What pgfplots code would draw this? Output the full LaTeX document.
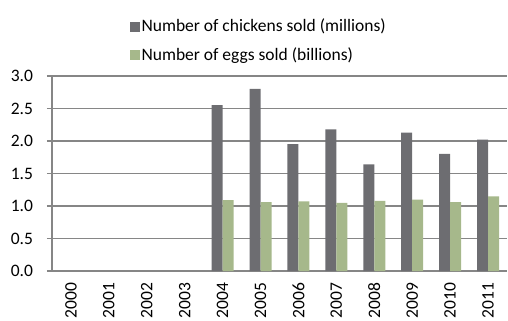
\documentclass[border=0pt]{standalone}
\usepackage{pgfplots}
\pgfplotsset{compat=1.18}
\usepackage{fontspec}
\setmainfont{Carlito}
\definecolor{chick}{RGB}{109,109,113}
\definecolor{egg}{RGB}{166,184,139}
\definecolor{gridc}{RGB}{134,134,134}
\begin{document}
\fontsize{17.5bp}{21bp}\selectfont
\begin{tikzpicture}
\path[use as bounding box] (-52bp,-50bp) rectangle (456bp,271bp);
\begin{axis}[
  at={(0,0)}, anchor=south west,
  scale only axis, width=455bp, height=195bp,
  xmin=-0.5, xmax=11.5, ymin=0, ymax=3,
  ybar=0pt, bar width=11bp,
  axis x line*=bottom, axis y line*=left,
  axis line style={gridc, line width=1.1pt, -},
  xtick={0,...,11},
  xticklabels={2000,2001,2002,2003,2004,2005,2006,2007,2008,2009,2010,2011},
  x tick label style={rotate=90, anchor=east, xshift=-1bp},
  major x tick style={draw=none},
  extra x ticks={-0.5,0.5,...,11.5},
  extra x tick labels={},
  extra x tick style={grid=none, major tick length=5bp, tick style={gridc, line width=1.1pt}},
  ytick={0,0.5,...,3},
  yticklabel style={xshift=-8bp, /pgf/number format/fixed, /pgf/number format/fixed zerofill, /pgf/number format/precision=1},
  /pgf/number format/assume math mode=true,
  ymajorgrids, grid style={gridc, line width=1.1pt},
  major tick length=5bp, tick align=outside,
  ytick style={gridc, line width=1.1pt},
  tick label style={font=\fontsize{17.5bp}{21bp}\selectfont, black},
  legend style={draw=none, fill=none, at={(0.17,1)}, anchor=south west, yshift=11bp,
    row sep=9bp, inner sep=0pt,
    font=\fontsize{17.5bp}{21bp}\selectfont, cells={anchor=west}},
  legend image code/.code={\fill[#1] (0bp,-5bp) rectangle (10bp,5bp);},
  legend cell align=left,
]
\addplot[fill=chick, draw=none] coordinates {
 (4,2.55) (5,2.80) (6,1.95) (7,2.18) (8,1.64) (9,2.13) (10,1.80) (11,2.02)};
\addplot[fill=egg, draw=none] coordinates {
 (4,1.09) (5,1.06) (6,1.07) (7,1.05) (8,1.08) (9,1.10) (10,1.06) (11,1.15)};
\legend{Number of chickens sold (millions), Number of eggs sold (billions)}
\end{axis}
\end{tikzpicture}
\end{document}
